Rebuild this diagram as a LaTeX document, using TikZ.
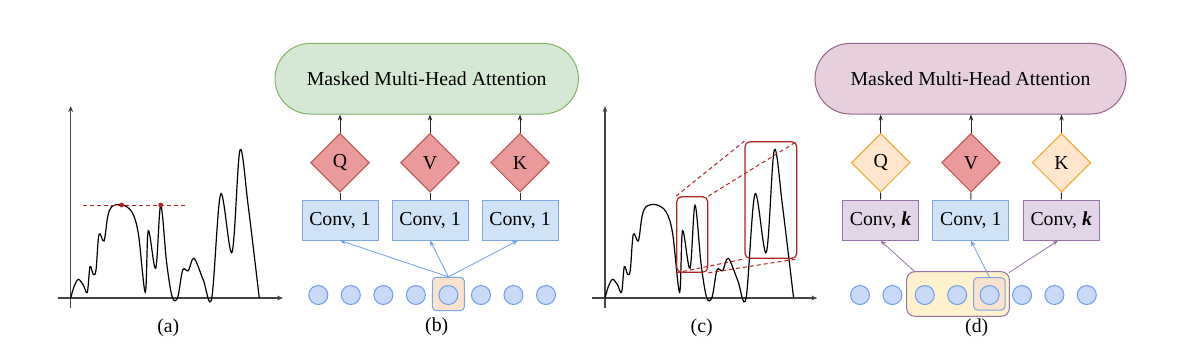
\documentclass[tikz,border=0pt]{standalone}
\usepackage{fontspec}
\setmainfont{Liberation Serif}
\usetikzlibrary{shapes.geometric,arrows.meta,calc}
\definecolor{greenfill}{HTML}{D5E8D4}
\definecolor{greendraw}{HTML}{82B366}
\definecolor{pinkfill}{HTML}{E6D0DE}
\definecolor{pinkdraw}{HTML}{996185}
\definecolor{redfill}{HTML}{EA9A9A}
\definecolor{reddraw}{HTML}{B85450}
\definecolor{orangefill}{HTML}{FFE6CC}
\definecolor{orangedraw}{HTML}{F5A623}
\definecolor{bluefill}{HTML}{D0E2F5}
\definecolor{bluedraw}{HTML}{7EA6E0}
\definecolor{dotfill}{HTML}{C9DAF8}
\definecolor{dotdraw}{HTML}{6D9EEB}
\definecolor{peachfill}{HTML}{FAE3CD}
\definecolor{purplefill}{HTML}{E1D5E7}
\definecolor{purpledraw}{HTML}{9673A6}
\definecolor{yellowfill}{HTML}{FFF2CC}
\definecolor{darkred}{HTML}{B22222}
\definecolor{axisgray}{HTML}{444444}
\begin{document}
\begin{tikzpicture}[x=0.5pt,y=-0.5pt,
  font=\fontsize{9.9}{12}\selectfont,
  attbox/.style={rectangle, rounded corners=17.6pt, minimum height=35.3pt, inner sep=0pt, line width=0.5pt},
  diam/.style={diamond, aspect=1, minimum width=29.3pt, minimum height=29.3pt, inner sep=0pt, line width=0.5pt},
  redd/.style={diam, fill=redfill, draw=reddraw},
  orad/.style={diam, fill=orangefill, draw=orangedraw},
  convbox/.style={rectangle, minimum width=38pt, minimum height=20pt, inner sep=0pt, line width=0.5pt},
  blueconv/.style={convbox, fill=bluefill, draw=bluedraw},
  purpconv/.style={convbox, fill=purplefill, draw=purpledraw},
  seqdot/.style={circle, minimum size=9.5pt, inner sep=0pt, fill=dotfill, draw=dotdraw, line width=0.5pt},
  uparrow/.style={-{Stealth[length=3pt,width=2.2pt]}, line width=0.5pt, black!85},
  plainline/.style={line width=0.5pt, black!85},
  bluearrow/.style={-{Stealth[length=3pt,width=2.2pt]}, line width=0.4pt, dotdraw},
  purparrow/.style={-{Stealth[length=3pt,width=2.2pt]}, line width=0.4pt, purpledraw},
  axis/.style={-{Stealth[length=3pt,width=2.4pt]}, line width=0.75pt, axisgray},
  signal/.style={line width=0.6pt, black},
  zoombox/.style={rectangle, rounded corners=2.5pt, draw=darkred, line width=0.6pt, inner sep=0pt},
  zoomline/.style={darkred, line width=0.5pt, dash pattern=on 2pt off 1.5pt},
  caption/.style={inner sep=0pt}
]
\useasboundingbox (0,0) rectangle (1194,360);

% ---------- signals (a) and (c) ----------
\foreach \s/\n in {0/a,534.3/c} {
  \begin{scope}[shift={(\s,0)}]
    \coordinate (ya\n) at (70.7,308);
    \coordinate (yb\n) at (70.7,106);
    \coordinate (xa\n) at (58,298);
    \coordinate (xb\n) at (283,298);
    \draw[axis] (ya\n) -- (yb\n);
    \draw[axis] (xa\n) -- (xb\n);
    \draw[signal] plot[smooth, tension=0.55] coordinates {
      (70.7,298) (74,286.7) (78.3,279.3) (83.3,285) (87.3,292.3) (90,266.7)
      (93.3,274.3) (96,270) (99,234.3) (104,241) (107.7,216.7) (111.7,206.7)
      (121.7,204.7) (131.7,211.7) (138.3,233.3) (145.3,292.3) (148.3,230.7)
      (155.7,268.3) (160.7,205.3) (166.7,263.3) (172.3,297.3) (177.7,297.3)
      (182.7,270) (188.3,270.7) (194,258.3) (203.3,280) (211.7,298.3)
      (220.7,194) (232,252.3) (240,150) (248.3,206.7) (259.3,298.3)};
  \end{scope}
}

% (a) marks
\coordinate (dla) at (83.3,205);
\coordinate (dlb) at (188.3,205);
\draw[zoomline] (dla) -- (dlb);
\fill[darkred] (121.7,205) circle[radius=2.4];
\fill[darkred] (160.7,205) circle[radius=2.4];

% (c) zoom boxes
\node[zoombox, minimum width=15.5pt, minimum height=37.8pt] (sb) at (692.2,234.5) {};
\node[zoombox, minimum width=25.9pt, minimum height=58.3pt] (bb) at (770.9,200) {};
\draw[zoomline] (sb.north west) -- (bb.north west);
\draw[zoomline] (sb.north east) -- (bb.north east);
\draw[zoomline] (sb.south west) -- (bb.south west);
\draw[zoomline] (sb.south east) -- (bb.south east);

% ---------- panel (b) ----------
\node[attbox, fill=greenfill, draw=greendraw, minimum width=151.7pt] (attb) at (426.7,78.7) {Masked Multi-Head Attention};
\node[redd] (qb) at (340,162.7) {Q};
\node[redd] (vb) at (430,162.7) {V};
\node[redd] (kb) at (520,162.7) {K};
\node[blueconv] (c1b) at (340,220) {Conv, 1};
\node[blueconv] (c2b) at (430,220) {Conv, 1};
\node[blueconv] (c3b) at (520,220) {Conv, 1};
\foreach \d in {qb,vb,kb} \draw[uparrow] (\d.north) -- (\d.north |- attb.south);
\draw[plainline] (c1b.north) -- (qb.south);
\draw[plainline] (c2b.north) -- (vb.south);
\draw[plainline] (c3b.north) -- (kb.south);
\node[rectangle, rounded corners=2pt, minimum width=16pt, minimum height=16.7pt, fill=peachfill, draw=bluedraw, line width=0.5pt, inner sep=0pt] (hb) at (448.4,294) {};
\foreach \i in {1,...,8} \node[seqdot] (b\i) at ({318.3+32.53*(\i-1)},295) {};
\draw[bluearrow] (hb.north) -- (c1b.south);
\draw[bluearrow] (hb.north) -- (c2b.south);
\draw[bluearrow] (hb.north) -- ($(c3b.south)+(-2,0)$);

% ---------- panel (d) ----------
\node[attbox, fill=pinkfill, draw=pinkdraw, minimum width=155.5pt] (attd) at (970.5,78.7) {Masked Multi-Head Attention};
\node[orad] (qd) at (880.7,162.7) {Q};
\node[redd] (vd) at (971,162.7) {V};
\node[orad] (kd) at (1061.5,162.7) {K};
\node[purpconv] (c1d) at (880.5,220) {Conv, \textbf{\textit{k}}};
\node[blueconv] (c2d) at (970.8,220) {Conv, 1};
\node[purpconv] (c3d) at (1061.2,220) {Conv, \textbf{\textit{k}}};
\foreach \d in {qd,vd,kd} \draw[uparrow] (\d.north) -- (\d.north |- attd.south);
\draw[plainline] (c1d.north) -- (qd.south);
\draw[plainline] (c2d.north) -- (vd.south);
\draw[plainline] (c3d.north) -- (kd.south);
\node[rectangle, rounded corners=4pt, minimum width=51.3pt, minimum height=22.3pt, fill=yellowfill, draw=purpledraw, line width=0.5pt, inner sep=0pt] (yd) at (958,294) {};
\node[rectangle, rounded corners=2pt, minimum width=15.8pt, minimum height=16.2pt, fill=peachfill, draw=bluedraw, line width=0.5pt, inner sep=0pt] (hd) at (989.4,293.8) {};
\foreach \i in {1,...,8} \node[seqdot] (d\i) at ({860+32.4*(\i-1)},295) {};
\draw[purparrow] ($(yd.north west)+(8,0)$) -- (c1d.south);
\draw[bluearrow] (hd.north) -- (c2d.south);
\draw[purparrow] ($(yd.north east)+(-1,1.5)$) -- ($(c3d.south)+(-3,0)$);

% ---------- captions ----------
\node[caption] (la) at (168.3,328) {(a)};
\node[caption] (lb) at (436.7,327) {(b)};
\node[caption] (lc) at (701.7,328) {(c)};
\node[caption] (ld) at (976.7,328) {(d)};
\end{tikzpicture}
\end{document}
